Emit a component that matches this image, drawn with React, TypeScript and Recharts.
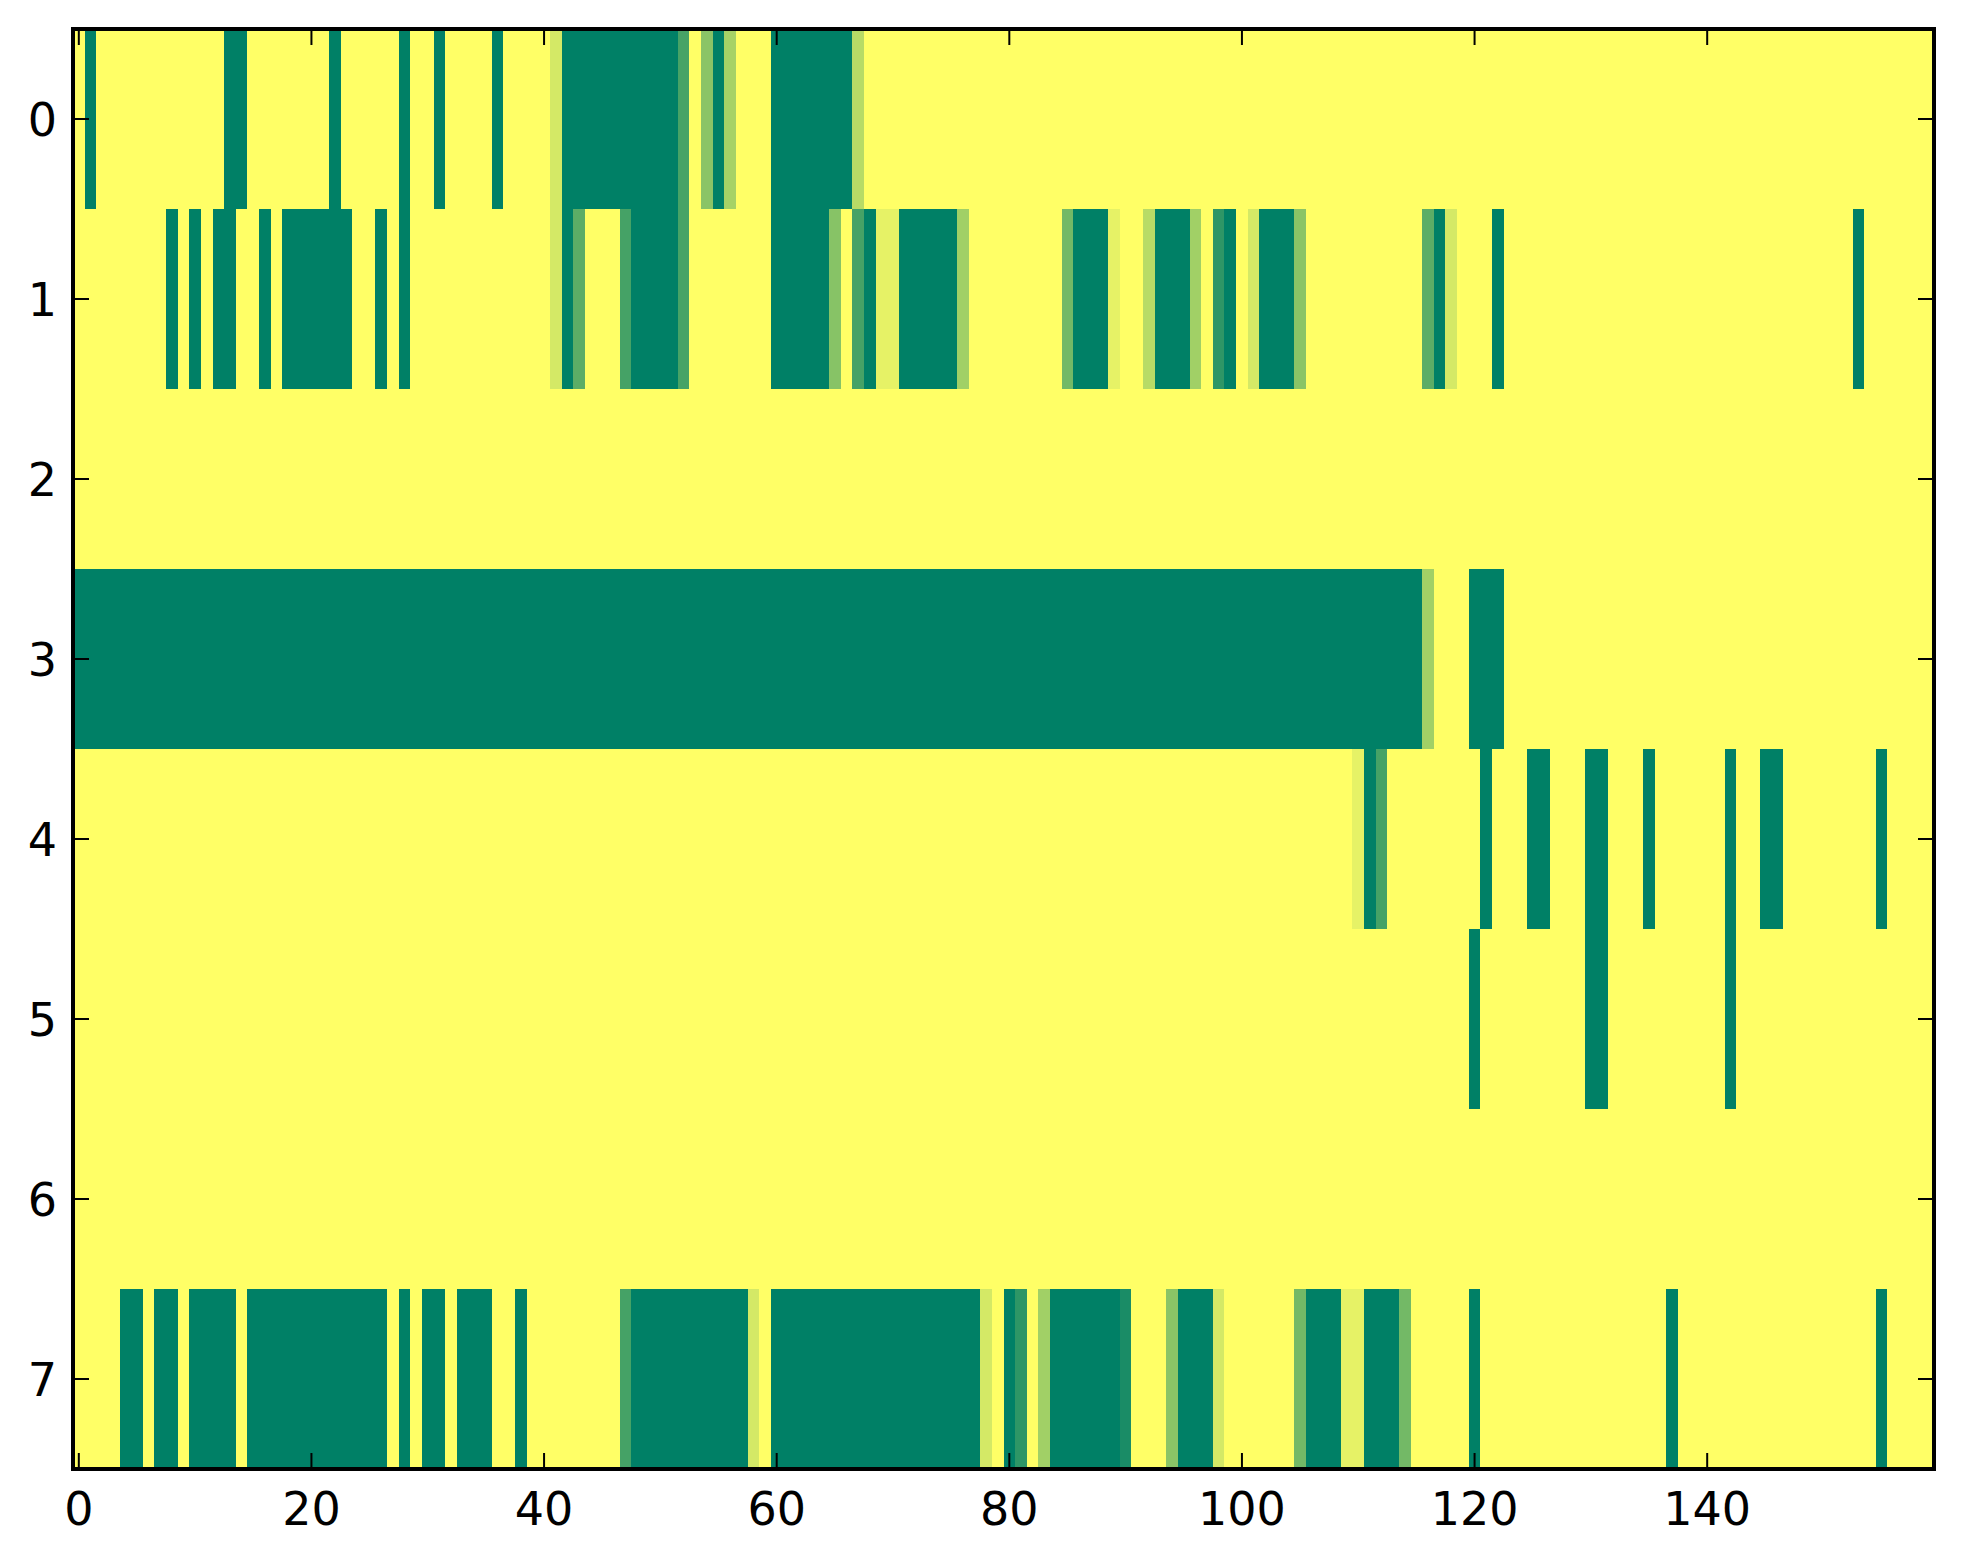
import React from "react";
import {
  ScatterChart,
  Scatter,
  XAxis,
  YAxis,
  ReferenceArea,
} from "recharts";

// Heatmap data: each row is a list of [value, runLength] pairs read left to right (160 columns).
const ROW_LABELS = [0, 1, 2, 3, 4, 5, 6, 7];
const X_TICKS = [0, 20, 40, 60, 80, 100, 120, 140];
const X_DOMAIN = [-0.5, 159.5];
const Y_DOMAIN = [-0.5, 7.5];

const ROW_0 = [
  [1, 1], [0, 1], [1, 11], [0, 2], [1, 7], [0, 1], [1, 5], [0, 1], [1, 2], [0, 1],
  [1, 4], [0, 1], [1, 4], [0.83, 1], [0, 10], [0.28, 1], [1, 1], [0.54, 1], [0, 1],
  [0.65, 1], [1, 3], [0, 7], [0.72, 1], [1, 92],
];
const ROW_1 = [
  [1, 8], [0, 1], [1, 1], [0, 1], [1, 1], [0, 2], [1, 2], [0, 1], [1, 1], [0, 6],
  [1, 2], [0, 1], [1, 1], [0, 1], [1, 12], [0.83, 1], [0, 1], [0.36, 1], [1, 3],
  [0.27, 1], [0, 4], [0.28, 1], [1, 7], [0, 5], [0.53, 1], [1, 1], [0.27, 1], [0, 1],
  [0.9, 2], [0, 5], [0.63, 1], [1, 8], [0.45, 1], [0, 3], [0.9, 1], [1, 2], [0.72, 1],
  [0, 3], [0.63, 1], [1, 1], [0.18, 1], [0, 1], [1, 1], [0.83, 1], [0, 3], [0.54, 1],
  [1, 10], [0.36, 1], [0, 1], [0.83, 1], [1, 3], [0, 1], [1, 30], [0, 1], [1, 6],
];
const ROW_2 = [[1, 160]];
const ROW_3 = [[0, 116], [0.63, 1], [1, 3], [0, 3], [1, 37]];
const ROW_4 = [
  [1, 110], [0.9, 1], [0, 1], [0.27, 1], [1, 8], [0, 1], [1, 3], [0, 2], [1, 3], [0, 2],
  [1, 3], [0, 1], [1, 6], [0, 1], [1, 2], [0, 2], [1, 8], [0, 1], [1, 4],
];
const ROW_5 = [[1, 120], [0, 1], [1, 9], [0, 2], [1, 10], [0, 1], [1, 17]];
const ROW_6 = [[1, 160]];
const ROW_7 = [
  [1, 4], [0, 2], [1, 1], [0, 2], [1, 1], [0, 4], [1, 1], [0, 12], [1, 1], [0, 1],
  [1, 1], [0, 2], [1, 1], [0, 3], [1, 2], [0, 1], [1, 8], [0.27, 1], [0, 10], [0.83, 1],
  [1, 1], [0, 18], [0.83, 1], [1, 1], [0, 1], [0.18, 1], [1, 1], [0.63, 1], [0, 6],
  [0.1, 1], [1, 3], [0.54, 1], [0, 3], [0.83, 1], [1, 6], [0.45, 1], [0, 3], [0.9, 2],
  [0, 3], [0.45, 1], [1, 5], [0, 1], [1, 16], [0, 1], [1, 17], [0, 1], [1, 4],
];

const ROWS = [ROW_0, ROW_1, ROW_2, ROW_3, ROW_4, ROW_5, ROW_6, ROW_7];

// matplotlib "summer" colormap
const summer = (v: number) => {
  const r = Math.round(255 * v);
  const g = Math.round(255 * (0.5 + 0.5 * v));
  return `rgb(${r},${g},102)`;
};

type Run = { row: number; start: number; len: number; value: number };

const RUNS: Run[] = [];
ROWS.forEach((runs, row) => {
  let start = 0;
  runs.forEach(([value, len]) => {
    RUNS.push({ row: ROW_LABELS[row], start, len, value });
    start += len;
  });
});

const POINTS = RUNS.map((r) => ({ x: r.start + (r.len - 1) / 2, y: r.row }));

const FONT = "'DejaVu Sans', 'Liberation Sans', sans-serif";
const TICK_LEN = 16;
const TICK_W = 2;
const FRAME = { stroke: "#000", strokeWidth: 4, strokeLinecap: "square" as const };

const BottomTick = (props: any) => {
  const { x, y, payload } = props;
  return (
    <g>
      <line x1={x} x2={x} y1={y} y2={y - TICK_LEN} stroke="#000" strokeWidth={TICK_W} />
      <text x={x} y={y + 56} textAnchor="middle" fontFamily={FONT} fontSize={46} fill="#000">
        {payload.value}
      </text>
    </g>
  );
};

const TopTick = (props: any) => {
  const { x, y } = props;
  return <line x1={x} x2={x} y1={y} y2={y + TICK_LEN} stroke="#000" strokeWidth={TICK_W} />;
};

const LeftTick = (props: any) => {
  const { x, y, payload } = props;
  return (
    <g>
      <line x1={x} x2={x + TICK_LEN} y1={y} y2={y} stroke="#000" strokeWidth={TICK_W} />
      <text x={x - 16} y={y + 17} textAnchor="end" fontFamily={FONT} fontSize={46} fill="#000">
        {payload.value}
      </text>
    </g>
  );
};

const RightTick = (props: any) => {
  const { x, y } = props;
  return <line x1={x} x2={x - TICK_LEN} y1={y} y2={y} stroke="#000" strokeWidth={TICK_W} />;
};

const CellShape = (props: any) => {
  const { x, y, width, height, fill } = props;
  return (
    <rect x={x} y={y} width={width} height={height} fill={fill} shapeRendering="crispEdges" />
  );
};

const FrameShape = (props: any) => {
  const { x, y, width, height } = props;
  return (
    <rect x={x} y={y} width={width} height={height} fill="none" stroke="#000" strokeWidth={4} />
  );
};

export default function App() {
  return (
    <div style={{ width: 1955, height: 1556, background: "#fff" }}>
      <ScatterChart
        width={1955}
        height={1556}
        margin={{ top: 0, right: 0, bottom: 0, left: 0 }}
      >
        <XAxis
          type="number"
          dataKey="x"
          domain={X_DOMAIN}
          allowDataOverflow
          ticks={X_TICKS}
          interval={0}
          orientation="bottom"
          height={95}
          axisLine={FRAME}
          tickLine={false}
          tickSize={0}
          tickMargin={0}
          tick={<BottomTick />}
        />
        <XAxis
          xAxisId="top"
          type="number"
          dataKey="x"
          domain={X_DOMAIN}
          allowDataOverflow
          ticks={X_TICKS}
          interval={0}
          orientation="top"
          height={21}
          axisLine={FRAME}
          tickLine={false}
          tickSize={0}
          tickMargin={0}
          tick={<TopTick />}
        />
        <YAxis
          type="number"
          dataKey="y"
          domain={Y_DOMAIN}
          allowDataOverflow
          reversed
          ticks={ROW_LABELS}
          interval={0}
          orientation="left"
          width={65}
          axisLine={FRAME}
          tickLine={false}
          tickSize={0}
          tickMargin={0}
          tick={<LeftTick />}
        />
        <YAxis
          yAxisId="right"
          type="number"
          dataKey="y"
          domain={Y_DOMAIN}
          allowDataOverflow
          reversed
          ticks={ROW_LABELS}
          interval={0}
          orientation="right"
          width={29}
          axisLine={FRAME}
          tickLine={false}
          tickSize={0}
          tickMargin={0}
          tick={<RightTick />}
        />
        {RUNS.map((r, i) => (
          <ReferenceArea
            key={i}
            x1={r.start - 0.5}
            x2={r.start + r.len - 0.5}
            y1={r.row - 0.5}
            y2={r.row + 0.5}
            fill={summer(r.value)}
            fillOpacity={1}
            stroke="none"
            ifOverflow="visible"
            shape={<CellShape />}
          />
        ))}
        <ReferenceArea
          x1={X_DOMAIN[0]}
          x2={X_DOMAIN[1]}
          y1={Y_DOMAIN[0]}
          y2={Y_DOMAIN[1]}
          ifOverflow="visible"
          shape={<FrameShape />}
        />
        <Scatter
          data={POINTS}
          isAnimationActive={false}
          shape={() => <g />}
        />
      </ScatterChart>
    </div>
  );
}
